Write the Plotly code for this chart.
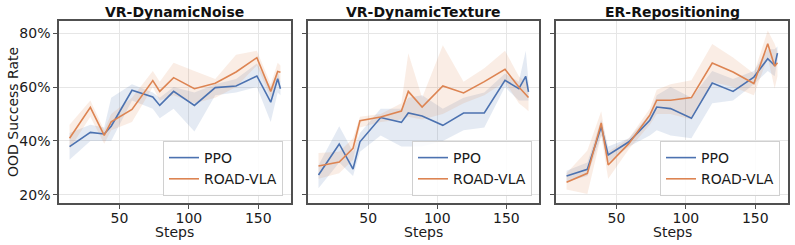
import plotly.graph_objects as go

steps = [14, 29, 39, 44, 59, 74, 79, 89, 104, 119, 134, 149, 159, 164, 166]
titles = ["VR-DynamicNoise", "VR-DynamicTexture", "ER-Repositioning"]

# Panel 1: VR-DynamicNoise (success rate, %)
p1_ppo = [37.9, 43.2, 42.6, 45.5, 58.8, 56.3, 53.2, 58.4, 53.2, 59.8, 60.4, 64.1, 54.4, 63.1, 59.4]
p1_ppo_lo = [33, 40, 40, 40, 55, 52, 48.4, 52, 43.5, 57, 58, 60, 47, 58, 57]
p1_ppo_hi = [43, 46, 45, 56, 61, 58, 56, 60, 58, 61, 63, 68.7, 60, 66, 62]
p1_road = [41.0, 52.5, 42.1, 47.1, 51.7, 62.4, 58.4, 63.5, 59.4, 61.4, 65.6, 70.9, 58.4, 65.8, 65.5]
p1_road_lo = [37, 49, 39, 44, 47, 60, 55, 57, 54, 56, 60, 68, 56, 62, 62]
p1_road_hi = [46, 55, 44, 50, 56, 66, 62, 69, 66, 63, 72, 73.5, 61, 69, 68]

# Panel 2: VR-DynamicTexture
p2_ppo = [27.4, 38.9, 29.6, 39.7, 48.7, 46.9, 50.4, 49.3, 45.8, 50.4, 50.4, 62.5, 59.4, 64.0, 58.2]
p2_ppo_lo = [22.5, 32, 27, 36, 42, 38, 38, 38, 40, 44, 45, 60, 55, 55, 55]
p2_ppo_hi = [31, 45.5, 36, 43, 52, 52, 56, 57, 52, 56, 58, 65, 62, 73.5, 62]
p2_road = [30.7, 32.2, 37.3, 47.5, 48.9, 51.1, 58.4, 52.6, 60.4, 57.8, 62.0, 66.6, 60.0, 57.0, 56.1]
p2_road_lo = [26, 28, 33, 45, 47, 48, 49, 48, 50, 54, 57, 62, 54, 52, 51]
p2_road_hi = [35.5, 36, 41, 49, 50, 54, 72.5, 56, 75.5, 62, 67, 73.5, 64, 62, 61]

# Panel 3: ER-Repositioning
p3_ppo = [27.0, 29.5, 45.3, 34.8, 39.7, 47.7, 52.6, 52.0, 48.4, 61.5, 58.4, 63.7, 70.5, 68.0, 72.6]
p3_ppo_lo = [25, 27, 42, 32, 38, 42, 44, 42, 41, 54, 55, 61, 66, 64, 70]
p3_ppo_hi = [29, 32, 48, 38, 41, 50, 57, 60, 56, 66, 63, 66, 74, 74, 75]
p3_road = [24.7, 28.0, 46.7, 31.1, 39.1, 49.6, 55.1, 55.1, 56.1, 68.9, 65.6, 61.3, 76.1, 67.7, 69.0]
p3_road_lo = [22, 20.3, 42, 26, 37, 46, 50, 50, 48, 62, 60, 57, 71, 59.5, 64]
p3_road_hi = [28, 36.5, 51, 36, 41, 52, 59, 61, 62.5, 76, 71, 65, 81, 76, 73]

panels = [
    (p1_ppo, p1_ppo_lo, p1_ppo_hi, p1_road, p1_road_lo, p1_road_hi),
    (p2_ppo, p2_ppo_lo, p2_ppo_hi, p2_road, p2_road_lo, p2_road_hi),
    (p3_ppo, p3_ppo_lo, p3_ppo_hi, p3_road, p3_road_lo, p3_road_hi),
]

BLUE = "#4C72B0"
ORANGE = "#DD8452"
BLUE_FILL = "rgba(76,114,176,0.15)"
ORANGE_FILL = "rgba(221,132,82,0.15)"
FONT = "DejaVu Sans"

W, H = 795, 245
xdom = [(59 / W, 291 / W), (308 / W, 539 / W), (556 / W, 788 / W)]
ydom = (1 - 203 / H, 1 - 21 / H)

fig = go.Figure()

def pct(v):
    return [x / 100 for x in v]

for i, (ppo, plo, phi, road, rlo, rhi) in enumerate(panels):
    ax = "" if i == 0 else str(i + 1)
    xa, ya = "x" + ax, "y" + ax
    leg = "legend" if i == 0 else "legend" + str(i + 1)
    for lo, hi, fillc in ((plo, phi, BLUE_FILL), (rlo, rhi, ORANGE_FILL)):
        fig.add_trace(go.Scatter(
            x=steps + steps[::-1], y=pct(hi) + pct(lo)[::-1],
            fill="toself", fillcolor=fillc, line=dict(width=0),
            mode="lines", hoverinfo="skip", showlegend=False,
            xaxis=xa, yaxis=ya))
    fig.add_trace(go.Scatter(x=steps, y=pct(ppo), mode="lines", name="PPO",
                             line=dict(color=BLUE, width=1.6),
                             xaxis=xa, yaxis=ya, legend=leg))
    fig.add_trace(go.Scatter(x=steps, y=pct(road), mode="lines", name="ROAD-VLA",
                             line=dict(color=ORANGE, width=1.6),
                             xaxis=xa, yaxis=ya, legend=leg))

axis_common = dict(showline=True, mirror=True, linecolor="#505050", linewidth=1.5,
                   showgrid=True, gridcolor="#e6e6e6", gridwidth=1,
                   ticks="outside", ticklen=4, tickcolor="#505050", tickwidth=1,
                   zeroline=False, tickfont=dict(family=FONT, size=14, color="#1a1a1a"))

layout = dict(
    width=W, height=H, margin=dict(l=0, r=0, t=0, b=0),
    plot_bgcolor="white", paper_bgcolor="white",
    font=dict(family=FONT, color="#1a1a1a"),
    showlegend=True,
)

legend_right = [283, 532, 780]
annotations = []
for i in range(3):
    ax = "" if i == 0 else str(i + 1)
    layout["xaxis" + ax] = dict(
        domain=list(xdom[i]), anchor="y" + ax, range=[6.4, 173.6],
        tickvals=[50, 100, 150], ticklabelstandoff=-3, **axis_common)
    ydict = dict(domain=list(ydom), anchor="x" + ax, range=[0.17, 0.845],
                 tickvals=[0.2, 0.4, 0.6, 0.8], tickformat=".0%", **axis_common)
    if i > 0:
        ydict["showticklabels"] = False
    layout["yaxis" + ax] = ydict
    leg = "legend" if i == 0 else "legend" + str(i + 1)
    layout[leg] = dict(
        x=legend_right[i] / W, y=1 - 196 / H, xanchor="right", yanchor="bottom",
        xref="paper", yref="paper",
        bgcolor="rgba(255,255,255,0.85)", bordercolor="#d0d0d0", borderwidth=1,
        font=dict(family=FONT, size=14, color="#1a1a1a"),
        itemwidth=30, tracegroupgap=0)
    cx = (xdom[i][0] + xdom[i][1]) / 2
    annotations.append(dict(
        text="<b>" + titles[i] + "</b>", x=cx, y=1 - 12.5 / H,
        xref="paper", yref="paper", showarrow=False, xanchor="center", yanchor="middle",
        font=dict(family=FONT, size=14, color="#111")))
    annotations.append(dict(
        text="Steps", x=cx, y=1 - 231.5 / H,
        xref="paper", yref="paper", showarrow=False, xanchor="center", yanchor="middle",
        font=dict(family=FONT, size=14, color="#1a1a1a")))

annotations.append(dict(
    text="OOD Success Rate", x=13 / W, y=1 - 112 / H, textangle=-90,
    xref="paper", yref="paper", showarrow=False, xanchor="center", yanchor="middle",
    font=dict(family=FONT, size=14, color="#1a1a1a")))

layout["annotations"] = annotations
fig.update_layout(**layout)
fig.write_html("out.html")
